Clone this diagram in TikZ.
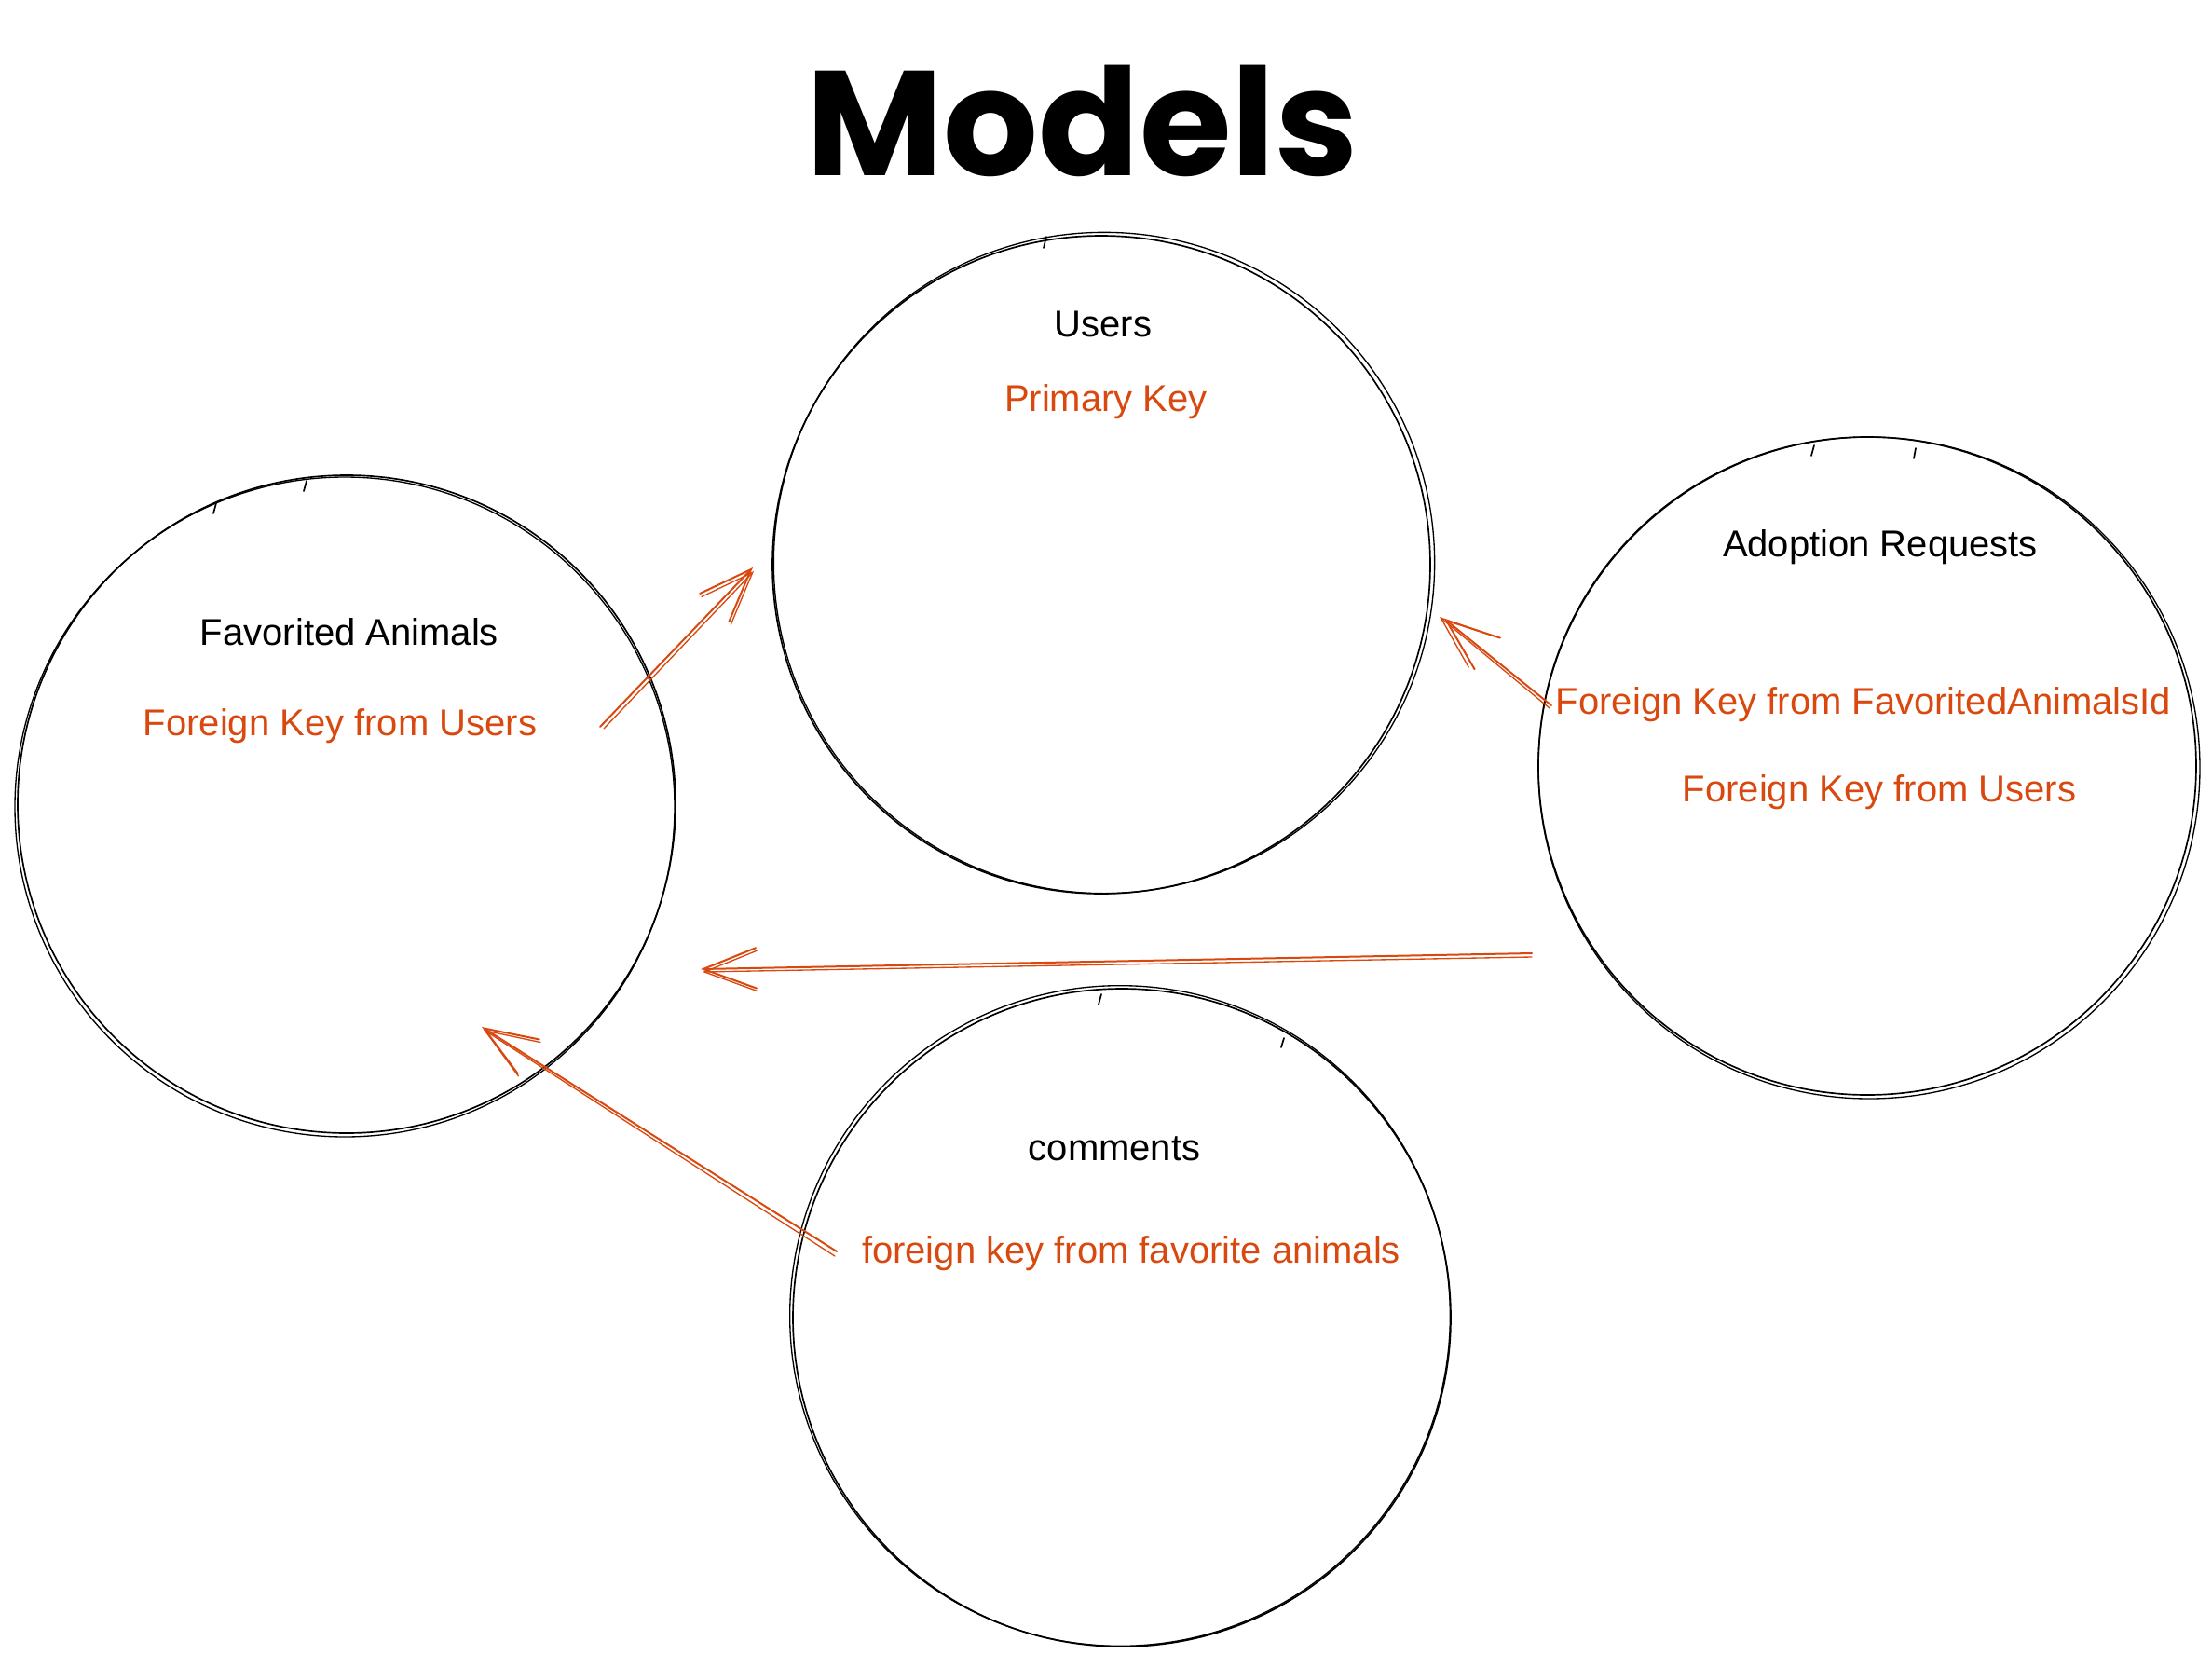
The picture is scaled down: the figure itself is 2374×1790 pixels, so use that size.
\documentclass[tikz,border=0pt]{standalone}
\usepackage{fontspec}
\setmainfont{Liberation Sans}
\newfontfamily\titlefont{Poppins}
\usetikzlibrary{arrows.meta}
\definecolor{fk}{HTML}{D9480F}
\begin{document}
\begin{tikzpicture}[x=0.3pt,y=-0.3pt,
  model/.style={circle,draw,line width=0.5pt,minimum size=211.8pt,inner sep=0pt},
  sk/.style={draw,line width=0.4pt},
  tick/.style={draw,line width=0.5pt,line cap=round},
  lbl/.style={font=\fontsize{12pt}{14pt}\selectfont,anchor=base,inner sep=0pt},
  fklbl/.style={lbl,text=fk},
  fkarrow/.style={draw=fk,line width=0.6pt,line cap=round,-{Straight Barb[length=17pt,width=13pt,line cap=round]}},
  fkarrowb/.style={fkarrow,line width=0.4pt},
]
\useasboundingbox (0,0) rectangle (2374,1790);

% title
\node[anchor=base,inner sep=0pt,font=\titlefont\bfseries\fontsize{48pt}{54pt}\selectfont] (title) at (1162,188) {Models};

% models
\node[model] (users) at (1182,606) {};
\draw[sk] ([shift={(3,-2)}]users.center) circle[radius=106.4pt];
\node[model] (fav) at (372,863) {};
\draw[sk] ([shift={(-2,3)}]fav.center) circle[radius=106.2pt];
\node[model] (adopt) at (2004,822) {};
\draw[sk] ([shift={(2,2)}]adopt.center) circle[radius=106.5pt];
\node[model] (comm) at (1204,1414) {};
\draw[sk] ([shift={(-2,-2)}]comm.center) circle[radius=106.3pt];

% small sketch ticks at the circle tops
\draw[tick] ([shift={(-59,-352)}]users.center) -- ++(-3,12);
\draw[tick] ([shift={(-140,-323)}]fav.center) -- ++(-3,11);
\draw[tick] ([shift={(-43,-347)}]fav.center) -- ++(-3,11);
\draw[tick] ([shift={(-57,-344)}]adopt.center) -- ++(-3,11);
\draw[tick] ([shift={(52,-341)}]adopt.center) -- ++(-2,11);
\draw[tick] ([shift={(-22,-347)}]comm.center) -- ++(-3,11);
\draw[tick] ([shift={(174,-300)}]comm.center) -- ++(-3,10);

% labels
\node[lbl] (usersT) at (1184,361) {Users};
\node[fklbl] (usersPK) at (1187,441) {Primary Key};
\node[lbl] (favT) at (375,692) {Favorited Animals};
\node[fklbl] (favFK) at (365,789) {Foreign Key from Users};
\node[lbl] (adoptT) at (2018,597) {Adoption Requests};
\node[fklbl] (adoptFK1) at (2000,766) {Foreign Key from FavoritedAnimalsId};
\node[fklbl] (adoptFK2) at (2017,860) {Foreign Key from Users};
\node[lbl] (commT) at (1196,1245) {comments};
\node[fklbl] (commFK) at (1214,1355) {foreign key from favorite animals};

% connector end points
\coordinate (a1s) at (644,780);  \coordinate (a1e) at (808,609);
\coordinate (a2s) at (1665,757); \coordinate (a2e) at (1550,664);
\coordinate (a3s) at (1644,1023);\coordinate (a3e) at (752,1040);
\coordinate (a4s) at (898,1343); \coordinate (a4e) at (517,1102);

\draw[fkarrow] (a1s) -- (a1e);
\draw[fkarrowb] ([shift={(4,2)}]a1s) -- ([shift={(1,4)}]a1e);
\draw[fkarrow] (a2s) -- (a2e);
\draw[fkarrowb] ([shift={(-2,3)}]a2s) -- ([shift={(-5,-2)}]a2e);
\draw[fkarrow] (a3s) -- (a3e);
\draw[fkarrowb] ([shift={(0,4)}]a3s) -- ([shift={(2,3)}]a3e);
\draw[fkarrow] (a4s) -- (a4e);
\draw[fkarrowb] ([shift={(-2,5)}]a4s) -- ([shift={(2,3)}]a4e);
\end{tikzpicture}
\end{document}
